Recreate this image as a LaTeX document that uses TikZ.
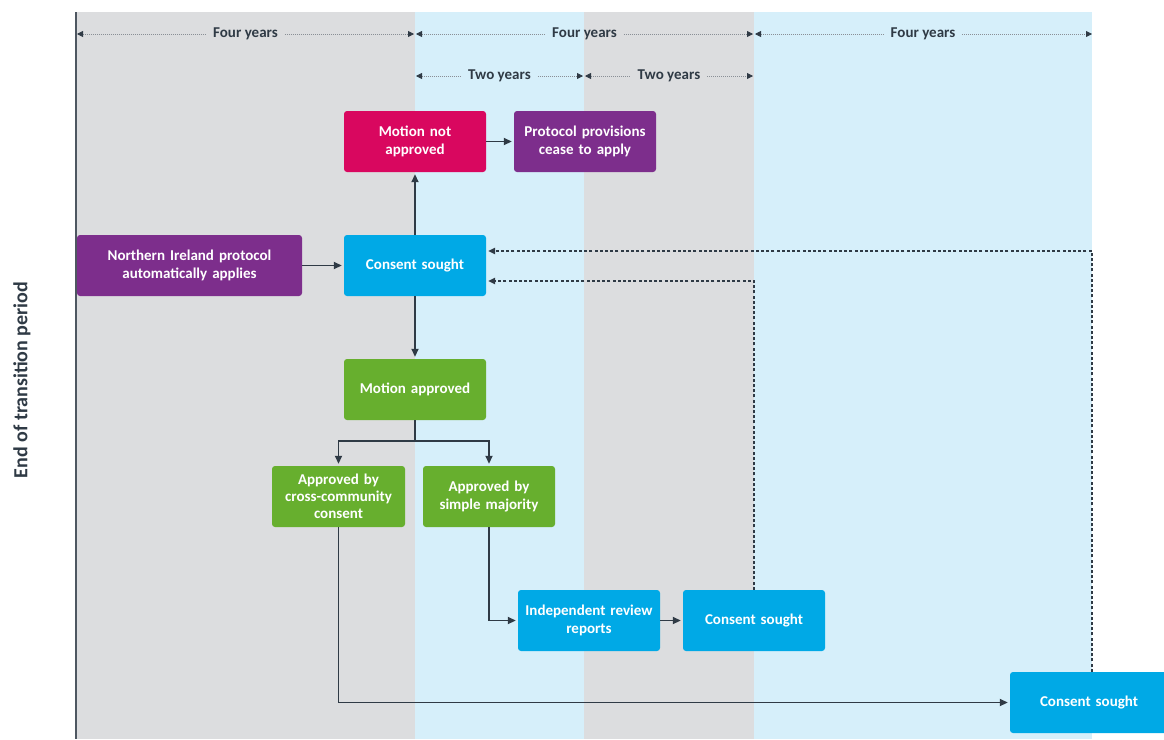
\documentclass[tikz,border=0pt]{standalone}
\usepackage{fontspec}
\setmainfont{Carlito}
\usetikzlibrary{arrows.meta,calc}
\definecolor{bandgray}{HTML}{DCDDDF}
\definecolor{bandblue}{HTML}{D6EFFA}
\definecolor{magentabox}{HTML}{D9075F}
\definecolor{purplebox}{HTML}{7D2E8C}
\definecolor{cyanbox}{HTML}{00A9E6}
\definecolor{greenbox}{HTML}{67AF2E}
\definecolor{linedark}{HTML}{2F3A45}
\definecolor{dotgray}{HTML}{8A8F96}
\begin{document}
\begin{tikzpicture}[x=1pt,y=-1pt,
  box/.style={rounded corners=3pt, inner sep=0pt, text=white, align=center,
    font=\fontsize{15}{18}\selectfont\bfseries, minimum height=61pt},
  pbox/.style={box, fill=purplebox},
  mbox/.style={box, fill=magentabox},
  cbox/.style={box, fill=cyanbox},
  gbox/.style={box, fill=greenbox},
  arr/.style={draw=linedark, line width=1.7pt, shorten >=2pt, -{Triangle[length=8pt,width=7pt]}},
  dasharr/.style={draw=linedark, line width=1.3pt, dash pattern=on 3pt off 2.2pt, shorten >=2pt, -{Triangle[length=7pt,width=6.5pt]}},
  dimline/.style={draw=dotgray, line width=0.8pt, dash pattern=on 0.8pt off 1.2pt},
  dimtip/.style={-{Triangle[length=6pt,width=6pt,color=linedark]}},
  dimtail/.style={{Triangle[length=6pt,width=6pt,color=linedark]}-},
  dimlabel/.style={inner sep=7pt, text=linedark, font=\fontsize{15}{18}\selectfont\bfseries}
]
\fill[white] (0,0) rectangle (1164,739);
\useasboundingbox (0,0) rectangle (1164,739);
% bands
\fill[bandgray] (76,12) rectangle (415,739);
\fill[bandblue] (415,12) rectangle (584,739);
\fill[bandgray] (584,12) rectangle (754,739);
\fill[bandblue] (754,12) rectangle (1092,739);
\draw[linedark!85, line width=1.8pt] (76,12) -- (76,739);

% side label
\node[rotate=90, font=\fontsize{20}{24}\selectfont\bfseries, text=linedark] (etp) at (22,380) {End of transition period};

% dimension rows
\node[dimlabel] (fy1) at (245.5,34) {Four years};
\node[dimlabel] (fy2) at (584.5,34) {Four years};
\node[dimlabel] (fy3) at (923,34) {Four years};
\node[dimlabel] (ty1) at (499.5,76) {Two years};
\node[dimlabel] (ty2) at (669,76) {Two years};
\coordinate (a0) at (77,34);
\coordinate (a1) at (414,34);
\coordinate (a2) at (416,34);
\coordinate (a3) at (753,34);
\coordinate (a4) at (755,34);
\coordinate (a5) at (1092,34);
\coordinate (b0) at (416,76);
\coordinate (b1) at (583,76);
\coordinate (b2) at (585,76);
\coordinate (b3) at (753,76);
\draw[dimline,dimtail] (a0) -- (fy1);
\draw[dimline,dimtip] (fy1) -- (a1);
\draw[dimline,dimtail] (a2) -- (fy2);
\draw[dimline,dimtip] (fy2) -- (a3);
\draw[dimline,dimtail] (a4) -- (fy3);
\draw[dimline,dimtip] (fy3) -- (a5);
\draw[dimline,dimtail] (b0) -- (ty1);
\draw[dimline,dimtip] (ty1) -- (b1);
\draw[dimline,dimtail] (b2) -- (ty2);
\draw[dimline,dimtip] (ty2) -- (b3);

% boxes
\node[mbox, minimum width=142pt, text width=130pt] (mna) at (415,141.5) {Motion not\\approved};
\node[pbox, minimum width=142pt, text width=138pt] (ppc) at (585,141.5) {Protocol provisions\\cease to apply};
\node[pbox, minimum width=225pt, text width=210pt] (ni) at (189.5,265.5) {Northern Ireland protocol\\automatically applies};
\node[cbox, minimum width=142pt, text width=130pt] (cs1) at (415,265.5) {Consent sought};
\node[gbox, minimum width=142pt, text width=130pt] (ma) at (415,389.5) {Motion approved};
\node[gbox, minimum width=133pt, text width=130pt, font=\fontsize{15}{17}\selectfont\bfseries] (acc) at (338.5,496.5) {Approved by\\cross-community\\consent};
\node[gbox, minimum width=132pt, text width=128pt] (asm) at (489,496.5) {Approved by\\simple majority};
\node[cbox, minimum width=142pt, text width=140pt] (irr) at (589,620.5) {Independent review\\reports};
\node[cbox, minimum width=142pt, text width=130pt] (cs2) at (754,620.5) {Consent sought};
\node[cbox, minimum width=158pt, text width=140pt] (cs3) at (1089,702.5) {Consent sought};

% connectors
\draw[arr] (ni) -- (cs1);
\draw[arr] (cs1) -- (mna);
\draw[arr] (mna) -- (ppc);
\draw[arr] (cs1) -- (ma);
\coordinate (br) at (415,441);
\draw[draw=linedark, line width=1.7pt] (ma) -- (br);
\draw[arr] (br) -| (acc);
\draw[arr] (br) -| (asm);
\draw[arr] (acc.south) |- (cs3.west);
\draw[arr] (asm.south) |- (irr.west);
\draw[arr] (irr) -- (cs2);
\draw[dasharr] (cs2.north) |- ($(cs1.east)+(0,15.5)$);
\draw[dasharr] ($(cs3.north)+(3,0)$) |- ($(cs1.east)+(0,-14.5)$);
\end{tikzpicture}
\end{document}
